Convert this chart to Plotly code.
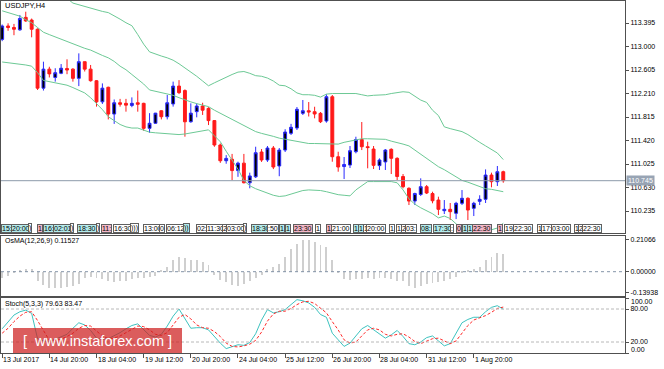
import plotly.graph_objects as go

# ---------------- data ----------------
bar_idx = list(range(86))

open_ = [113.12, 113.345, 113.32, 113.28, 113.49, 113.445, 113.29, 112.30, 112.62, 112.48,
         112.55, 112.63, 112.62, 112.465, 112.745, 112.62, 112.425, 112.07, 112.315, 111.865,
         112.055, 112.045, 112.01, 112.055, 112.045, 111.625, 111.71, 111.92, 111.82, 112.035,
         112.335, 112.26, 111.735, 111.905, 112.0, 111.96, 111.755, 111.345, 111.08, 111.105,
         110.915, 111.04, 110.71, 110.81, 111.227, 111.093, 111.294, 110.992, 111.26, 111.541,
         111.63, 111.877, 111.921, 111.904, 111.877, 111.748, 112.156, 111.148, 110.983, 111.008,
         111.232, 111.437, 111.316, 111.277, 110.998, 111.06, 111.272, 111.121, 110.815, 110.617,
         110.403, 110.513, 110.644, 110.529, 110.42, 110.241, 110.264, 110.197, 110.365, 110.449,
         110.281, 110.398, 110.432, 110.84, 110.728, 110.896]
high = [113.37, 113.39, 113.38, 113.53, 113.585, 113.47, 113.305, 112.745, 112.66, 112.635,
        112.705, 112.785, 112.635, 112.885, 112.745, 112.69, 112.435, 112.38, 112.325, 112.11,
        112.12, 112.12, 112.145, 112.26, 112.055, 111.88, 111.885, 111.93, 112.185, 112.41,
        112.435, 112.28, 112.045, 112.045, 112.055, 111.98, 111.765, 111.37, 111.175, 111.195,
        111.065, 111.195, 110.88, 111.316, 111.277, 111.328, 111.328, 111.294, 111.61, 111.70,
        111.983, 112.101, 112.067, 111.988, 111.899, 112.197, 112.185, 111.232, 111.143, 111.328,
        111.484, 111.731, 111.40, 111.328, 111.12, 111.277, 111.289, 111.138, 110.857, 110.634,
        110.543, 110.785, 110.672, 110.56, 110.476, 110.42, 110.37, 110.39, 110.588, 110.466,
        110.39, 110.50, 110.935, 110.88, 110.992, 110.913]
low = [113.09, 113.265, 113.19, 113.265, 113.415, 113.155, 112.27, 112.26, 112.48, 112.41,
       112.535, 112.535, 112.41, 112.335, 112.58, 112.41, 111.99, 112.035, 111.775, 111.70,
       111.99, 111.905, 111.98, 111.905, 111.585, 111.55, 111.70, 111.775, 111.775, 111.99,
       112.20, 111.485, 111.72, 111.81, 111.85, 111.68, 111.315, 111.045, 111.03, 110.755,
       110.81, 110.70, 110.617, 110.79, 111.06, 111.06, 110.94, 110.82, 111.227, 111.513,
       111.597, 111.849, 111.824, 111.793, 111.714, 111.72, 111.064, 110.896, 110.773, 110.958,
       111.205, 111.26, 110.953, 110.941, 110.925, 110.925, 110.857, 110.756, 110.617, 110.336,
       110.336, 110.487, 110.521, 110.365, 110.168, 110.185, 110.084, 110.10, 110.336, 110.084,
       110.151, 110.336, 110.37, 110.634, 110.656, 110.711]
close = [113.345, 113.32, 113.29, 113.47, 113.43, 113.29, 112.30, 112.62, 112.54, 112.56,
         112.635, 112.605, 112.465, 112.745, 112.62, 112.425, 112.07, 112.30, 111.865, 112.055,
         112.03, 112.015, 112.045, 112.03, 111.625, 111.71, 111.88, 111.82, 112.055, 112.335,
         112.225, 111.735, 111.88, 112.0, 111.93, 111.755, 111.345, 111.08, 111.12, 110.915,
         111.04, 110.71, 110.825, 111.215, 111.093, 111.294, 110.975, 111.26, 111.563, 111.642,
         111.945, 111.921, 111.899, 111.866, 111.736, 112.156, 111.148, 110.975, 111.017, 111.249,
         111.437, 111.316, 111.302, 111.003, 111.093, 111.26, 111.121, 110.815, 110.644, 110.403,
         110.529, 110.644, 110.538, 110.408, 110.264, 110.264, 110.224, 110.365, 110.449, 110.252,
         110.365, 110.432, 110.84, 110.728, 110.896, 110.745]

bb_upper = [114.46, 114.41, 114.37, 114.32, 114.22, 114.12, 114.08, 114.05, 113.98, 113.93,
            113.86, 113.81, 113.73, 113.70, 113.68, 113.65, 113.62, 113.59, 113.57, 113.52,
            113.46, 113.40, 113.35, 113.20, 113.04, 112.91, 112.87, 112.84, 112.81, 112.77,
            112.71, 112.64, 112.58, 112.50, 112.42, 112.34, 112.39, 112.44, 112.48, 112.53,
            112.57, 112.58, 112.55, 112.51, 112.50, 112.47, 112.42, 112.35, 112.34, 112.29,
            112.22, 112.19, 112.19, 112.18, 112.15, 112.20, 112.21, 112.21, 112.21, 112.21,
            112.21, 112.19, 112.17, 112.18, 112.18, 112.19, 112.21, 112.22, 112.24, 112.23,
            112.16, 112.10, 112.06, 111.93, 111.84, 111.65, 111.62, 111.59, 111.57, 111.52,
            111.45, 111.39, 111.33, 111.27, 111.21, 111.10]
bb_middle = [113.60, 113.57, 113.54, 113.51, 113.45, 113.40, 113.32, 113.24, 113.20, 113.16,
             113.12, 113.08, 113.04, 113.01, 112.97, 112.94, 112.89, 112.85, 112.81, 112.75,
             112.67, 112.61, 112.53, 112.45, 112.37, 112.27, 112.25, 112.23, 112.21, 112.18,
             112.14, 112.10, 112.07, 112.04, 112.02, 111.99, 111.93, 111.88, 111.83, 111.78,
             111.72, 111.67, 111.62, 111.57, 111.54, 111.52, 111.49, 111.46, 111.44, 111.42,
             111.40, 111.38, 111.37, 111.37, 111.37, 111.37, 111.36, 111.36, 111.39, 111.41,
             111.43, 111.45, 111.45, 111.45, 111.45, 111.44, 111.41, 111.39, 111.36, 111.33,
             111.26, 111.20, 111.13, 111.06, 110.98, 110.93, 110.87, 110.81, 110.75, 110.72,
             110.68, 110.64, 110.61, 110.60, 110.58, 110.56]
bb_lower = [112.74, 112.73, 112.71, 112.70, 112.69, 112.67, 112.56, 112.43, 112.41, 112.39,
            112.37, 112.35, 112.31, 112.26, 112.22, 112.14, 112.04, 111.94, 111.82, 111.75,
            111.69, 111.65, 111.63, 111.63, 111.60, 111.56, 111.55, 111.54, 111.53, 111.53,
            111.52, 111.53, 111.55, 111.57, 111.59, 111.60, 111.50, 111.40, 111.24, 111.09,
            110.94, 110.75, 110.66, 110.61, 110.57, 110.53, 110.50, 110.48, 110.49, 110.52,
            110.55, 110.58, 110.59, 110.59, 110.58, 110.56, 110.53, 110.51, 110.50, 110.49,
            110.59, 110.66, 110.73, 110.73, 110.73, 110.73, 110.73, 110.71, 110.59, 110.44,
            110.35, 110.29, 110.24, 110.19, 110.12, 110.15, 110.11, 110.02, 109.93, 109.91,
            109.91, 109.90, 109.90, 109.92, 109.95, 110.03]

osma = [-0.04, -0.03, -0.01, 0.005, 0.015, 0.015, -0.06, -0.09, -0.105, -0.11,
        -0.11, -0.10, -0.095, -0.085, -0.045, -0.035, -0.04, -0.05, -0.06, -0.07,
        -0.065, -0.06, -0.05, -0.045, -0.04, -0.035, -0.03, 0.01, 0.03, 0.075,
        0.10, 0.09, 0.075, 0.075, 0.065, 0.045, -0.02, -0.055, -0.07, -0.09,
        -0.095, -0.08, -0.065, -0.04, -0.025, 0.015, 0.03, 0.05, 0.10, 0.15,
        0.185, 0.21066, 0.21, 0.195, 0.18, 0.165, 0.08, -0.005, -0.05, -0.057,
        -0.05, -0.05, -0.045, -0.05, -0.045, -0.04, -0.05, -0.06, -0.065, -0.095,
        -0.105, -0.095, -0.08, -0.073, -0.066, -0.062, -0.05, -0.035, -0.01, 0.005,
        0.015, 0.03, 0.08, 0.10, 0.125, 0.11527]

stoch_main = [44, 57, 69, 75, 78, 72, 26, 22, 21, 25, 30, 34, 45, 55, 51, 41, 27, 25, 26, 31,
              37, 44, 50, 53, 42, 32, 29, 34, 49, 67, 80, 62, 45, 46, 46, 42, 29, 18, 8, 11,
              15, 14, 19, 35, 60, 79, 73, 75, 79, 88, 97, 95, 91, 83, 70, 65, 36, 24, 12, 18,
              31, 44, 50, 42, 34, 27, 33, 41, 30, 17, 15, 20, 28, 31, 22, 13, 17, 35, 55, 61,
              65, 65, 75, 83, 86, 79.63]
stoch_signal = [36, 45, 57, 67, 74, 75, 59, 40, 23, 23, 25, 30, 36, 45, 50, 49, 40, 31, 26, 27,
                31, 37, 44, 49, 48, 42, 34, 32, 37, 50, 65, 70, 62, 51, 46, 45, 39, 30, 18, 12,
                11, 13, 16, 23, 38, 58, 71, 76, 76, 81, 88, 93, 94, 90, 81, 73, 57, 42, 24, 18,
                20, 31, 42, 45, 42, 34, 31, 34, 35, 29, 21, 17, 21, 26, 27, 22, 17, 22, 36, 50,
                60, 64, 68, 74, 81, 83.47]

price_ticks = [113.395, 113.000, 112.605, 112.210, 111.815, 111.420, 111.025, 110.630, 110.235]
osma_ticks = [0.21066, 0.0, -0.13938]
stoch_ticks = [100, 80, 20, 0]
last_price = 110.745

time_tick_idx = [0, 8, 16, 24, 32, 40, 48, 56, 64, 72, 80]
time_tick_text = ["13 Jul 2017", "14 Jul 20:00", "18 Jul 04:00", "19 Jul 12:00", "20 Jul 20:00",
                  "24 Jul 04:00", "25 Jul 12:00", "26 Jul 20:00", "28 Jul 04:00", "31 Jul 12:00",
                  "1 Aug 20:00"]

# session labels strip (text, kind)
strip_text = ["15:", "20:00", ")", "1", "16:", "02:01", ")", "18:30", ")", "11:", "16:30", ")))",
              "13:00", "0", "06:12", "))", "02:", "11:30", "2", "03:00", ")", "18:30", ":50",
              "1", "1", "23:30", "1", "1", "21:00", "1", "1", "1", "20:00", "1", "1", "2", "03:",
              "08:", "17:30", ":", "0", "1", "1", "22:30", "1", "19", "22:30", "1", "17:", "03:00",
              "1", "2", "22:30"]
strip_kind = ["c", "c", "w", "p", "c", "c", "w", "c", "w", "p", "w", "w",
              "w", "w", "w", "c", "w", "w", "w", "w", "w", "c", "w",
              "c", "c", "p", "w", "p", "w", "c", "c", "w", "w", "w", "w", "w", "w",
              "c", "c", "w", "p", "c", "c", "p", "p", "w", "w", "w", "w", "w",
              "w", "w", "w"]
strip_pos = [-0.12, 1.58, 4.46, 5.99, 6.84, 8.70, 11.50, 12.77, 15.83, 16.76, 18.80, 21.68,
             23.88, 26.60, 27.79, 30.67, 32.87, 34.57, 37.29, 37.97, 40.85, 42.21, 44.92,
             46.96, 47.97, 49.33, 53.06, 54.93, 55.78, 59.51, 60.36, 61.21, 61.72, 65.61, 66.80,
             67.65, 68.33, 70.87, 73.08, 75.96, 76.98, 77.99, 78.84, 79.69, 83.93, 85.12, 86.65,
             90.72, 91.40, 93.10, 96.99, 97.68, 98.36]

# ---------------- figure ----------------
W, H = 664, 369
ML, MR, MT, MB = 1, 39, 1, 16
PW, PH = W - ML - MR, H - MT - MB


def px(x):
    return (x - ML) / PW


def py(y):
    return (H - MB - y) / PH


FONT = "Liberation Sans, Arial, sans-serif"
XR = [-0.2, 105.65]

fig = go.Figure()

# Bollinger bands
bb_col = "#6cc995"
for arr in (bb_upper, bb_middle, bb_lower):
    fig.add_trace(go.Scatter(x=bar_idx, y=arr, mode="lines", line=dict(color=bb_col, width=1),
                             xaxis="x", yaxis="y", hoverinfo="skip", showlegend=False))

fig.add_trace(go.Candlestick(
    x=bar_idx, open=open_, high=high, low=low, close=close,
    increasing=dict(line=dict(color="#2a2aff", width=1), fillcolor="black"),
    decreasing=dict(line=dict(color="#ff1a1a", width=1), fillcolor="#ff1a1a"),
    whiskerwidth=0, xaxis="x", yaxis="y", showlegend=False))

# OsMA
fig.add_trace(go.Bar(x=bar_idx, y=osma, width=0.16, marker=dict(color="#cfcfcf", line=dict(width=0)),
                     xaxis="x2", yaxis="y2", showlegend=False))

# Stochastic
fig.add_trace(go.Scatter(x=bar_idx, y=stoch_main, mode="lines", line=dict(color="#3ec3c0", width=1),
                         xaxis="x3", yaxis="y3", showlegend=False))
fig.add_trace(go.Scatter(x=bar_idx, y=stoch_signal, mode="lines",
                         line=dict(color="#ff2a2a", width=1, dash="3px,2px"),
                         xaxis="x3", yaxis="y3", showlegend=False))

frame = dict(showline=True, linecolor="#505050", linewidth=1, mirror=True, showgrid=False, zeroline=False)
tickfont = dict(family=FONT, size=7, color="black")

dom_main = [py(233), 1.0]
dom_osma = [py(296), py(236)]
dom_stoch = [0.0, py(298)]

# edge labels of the stochastic window are drawn inside the window (as in the terminal)
stoch_ticktext = ["" if v in (0, 100) else f"{v:.2f}" for v in stoch_ticks]

layout = dict(
    width=W, height=H, margin=dict(l=ML, r=MR, t=MT, b=MB),
    paper_bgcolor="white", plot_bgcolor="white", showlegend=False, bargap=0,
    xaxis=dict(domain=[0, 1], anchor="y", range=XR, showticklabels=False, ticks="",
               rangeslider=dict(visible=False), **frame),
    xaxis2=dict(domain=[0, 1], anchor="y2", range=XR, showticklabels=False, ticks="", **frame),
    xaxis3=dict(domain=[0, 1], anchor="y3", range=XR, showticklabels=False, ticks="outside",
                ticklen=4, tickcolor="#505050", tickvals=time_tick_idx, **frame),
    yaxis=dict(domain=dom_main, anchor="x", side="right", range=[109.866, 113.765],
               tickvals=price_ticks, ticktext=[f"{v:.3f}" for v in price_ticks],
               ticks="outside", ticklen=3, tickcolor="#505050", tickfont=tickfont, **frame),
    yaxis2=dict(domain=dom_osma, anchor="x2", side="right", range=[-0.1615, 0.2372],
                tickvals=osma_ticks, ticktext=[f"{v:.5f}" for v in osma_ticks],
                ticks="outside", ticklen=3, tickcolor="#505050", tickfont=tickfont, **frame),
    yaxis3=dict(domain=dom_stoch, anchor="x3", side="right", range=[0, 100],
                tickvals=stoch_ticks, ticktext=stoch_ticktext,
                ticks="outside", ticklen=3, tickcolor="#505050", tickfont=tickfont, **frame),
)
fig.update_layout(**layout)

shapes = []
# current price line
shapes.append(dict(type="line", xref="x domain", yref="y", x0=0, x1=1, y0=last_price, y1=last_price,
                   line=dict(color="#8d9bab", width=1)))
# OsMA zero line
shapes.append(dict(type="line", xref="x2 domain", yref="y2", x0=0, x1=1, y0=0, y1=0,
                   line=dict(color="#8494a8", width=1, dash="dot")))
# Stoch levels
for lv in (80, 20):
    shapes.append(dict(type="line", xref="x3 domain", yref="y3", x0=0, x1=1, y0=lv, y1=lv,
                       line=dict(color="#b8b8b8", width=1, dash="3px,2px")))
# watermark box
shapes.append(dict(type="rect", xref="paper", yref="paper", x0=px(13), x1=px(182), y0=py(353), y1=py(328),
                   fillcolor="rgba(205,30,30,0.72)", line=dict(width=0), layer="above"))
fig.update_layout(shapes=shapes)

ann = []
ann.append(dict(text="USDJPY,H4", xref="paper", yref="paper", x=px(3), y=py(6), xanchor="left",
                yanchor="middle", showarrow=False, font=dict(family=FONT, size=7.5, color="black")))
ann.append(dict(text="OsMA(12,26,9) 0.11527", xref="paper", yref="paper", x=px(3), y=py(241),
                xanchor="left", yanchor="middle", showarrow=False,
                font=dict(family=FONT, size=7, color="black")))
ann.append(dict(text="Stoch(5,3,3) 79.63 83.47", xref="paper", yref="paper", x=px(3), y=py(304),
                xanchor="left", yanchor="middle", showarrow=False,
                font=dict(family=FONT, size=7, color="black")))
# stochastic edge labels (inside the window edges)
for v, shift in ((100, -3.5), (0, 4)):
    ann.append(dict(text=f"{v:.2f}", xref="paper", yref="y3", x=px(629), y=v, yshift=shift,
                    xanchor="left", yanchor="middle", showarrow=False, font=tickfont))
# last price label
ann.append(dict(text=f"{last_price:.3f}", xref="paper", yref="y", x=px(626), y=last_price,
                xanchor="left", yanchor="middle", showarrow=False, bgcolor="#98a4b4",
                borderpad=1, font=dict(family=FONT, size=7, color="white")))
# x time labels
for i, t in zip(time_tick_idx, time_tick_text):
    ann.append(dict(text=t, xref="x3", yref="paper", x=i, y=py(360), xanchor="left", xshift=-1,
                    yanchor="middle", showarrow=False, font=dict(family=FONT, size=7, color="black")))
# session label strip
kind_bg = {"c": "#b4ecec", "p": "#f5b8c8", "w": "white"}
for pos, t, k in zip(strip_pos, strip_text, strip_kind):
    ann.append(dict(text=t, xref="x", yref="paper", x=pos, y=py(228.5), xanchor="left",
                    yanchor="middle", showarrow=False, bgcolor=kind_bg[k], bordercolor="#606060",
                    borderwidth=1, borderpad=0, font=dict(family=FONT, size=7, color="black")))
# watermark text
ann.append(dict(text="[  www.instaforex.com ]", xref="paper", yref="paper", x=px(97.5), y=py(341),
                xanchor="center", yanchor="middle", showarrow=False,
                font=dict(family=FONT, size=14.5, color="white")))
fig.update_layout(annotations=ann)

fig.write_html("out.html", config={"displayModeBar": False})
# remove the default page margin so the figure sits at the window's top-left corner
with open("out.html", "r", encoding="utf-8") as fh:
    html = fh.read()
html = html.replace("<head>", "<head><style>html,body{margin:0;padding:0;overflow:hidden;}</style>", 1)
with open("out.html", "w", encoding="utf-8") as fh:
    fh.write(html)
